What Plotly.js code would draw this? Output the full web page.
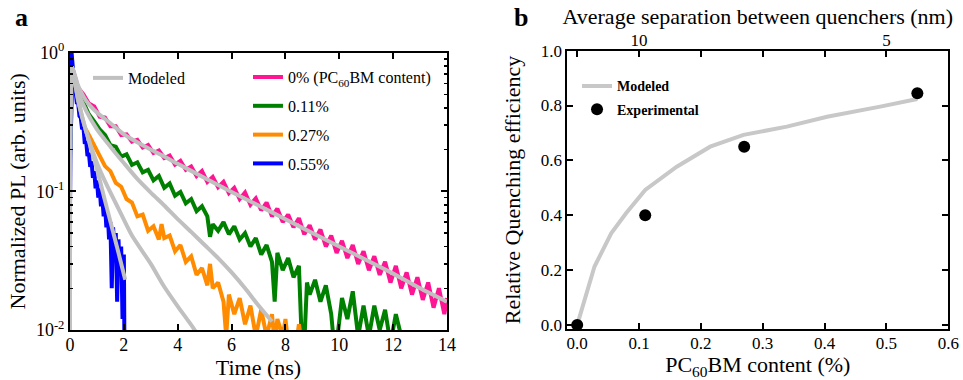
<!DOCTYPE html>
<html>
<head>
<meta charset="utf-8">
<script src="https://cdn.plot.ly/plotly-3.0.1.min.js"></script>
<style>html,body{margin:0;padding:0;background:#fff;}</style>
</head>
<body>
<div id="chart" style="width:963px;height:380px;"></div>
<script>
// ---------- Panel a: PL decays (time in ns, normalized PL) ----------
const pinkTime = [0,0.1,0.3,0.5,0.7,0.9,1.1,1.3,1.5,1.7,
  1.9,2.1,2.3,2.5,2.7,2.9,3.1,3.3,3.5,3.7,
  3.9,4.1,4.3,4.5,4.7,4.9,5.1,5.3,5.5,5.7,
  5.9,6.1,6.3,6.5,6.7,6.9,7.1,7.3,7.5,7.7,
  7.9,8.1,8.3,8.5,8.7,8.9,9.1,9.3,9.5,9.7,
  9.9,10.1,10.3,10.5,10.7,10.9,11.1,11.3,11.5,11.7,
  11.9,12.1,12.3,12.5,12.7,12.9,13.1,13.3,13.5,13.7,
  13.9,14.0];
const pinkPL = [0.5,0.76,0.56,0.50,0.43,0.41,0.345,0.34,0.295,0.295,
  0.255,0.258,0.228,0.235,0.207,0.216,0.189,0.197,0.174,0.181,
  0.156,0.166,0.143,0.151,0.129,0.140,0.117,0.127,0.107,0.117,
  0.097,0.106,0.088,0.098,0.080,0.089,0.073,0.083,0.066,0.075,
  0.060,0.068,0.055,0.064,0.049,0.057,0.045,0.053,0.040,0.048,
  0.036,0.044,0.033,0.041,0.030,0.037,0.027,0.034,0.025,0.031,
  0.022,0.029,0.020,0.026,0.018,0.024,0.0165,0.022,0.0145,0.020,
  0.013,0.017];

const greenTime = [0,0.1,0.3,0.5,0.7,0.9,1.1,1.3,1.5,1.7,
  1.9,2.1,2.3,2.5,2.7,2.9,3.1,3.3,3.5,3.7,
  3.9,4.1,4.3,4.5,4.7,4.9,5.1,5.2,5.3,5.5,
  5.7,5.9,6.1,6.3,6.5,6.7,6.9,7.1,7.3,7.5,
  7.6,7.7,7.9,8.1,8.3,8.5,8.6,8.7,8.8,8.9,
  9.1,9.3,9.5,9.7,9.8,9.9,10.1,10.3,10.5,10.7,
  10.9,11.1,11.3,11.5,11.7,11.9,12.1,12.3,12.4];
const greenPL = [0.17,0.76,0.53,0.44,0.36,0.32,0.28,0.255,0.215,0.21,
  0.178,0.185,0.155,0.162,0.137,0.143,0.120,0.129,0.106,0.114,
  0.093,0.099,0.082,0.088,0.072,0.078,0.066,0.047,0.058,0.052,
  0.060,0.049,0.056,0.045,0.050,0.040,0.046,0.035,0.041,0.031,
  0.016,0.036,0.027,0.033,0.024,0.029,0.009,0.008,0.022,0.018,
  0.023,0.016,0.021,0.013,0.008,0.008,0.017,0.012,0.019,0.009,
  0.015,0.009,0.015,0.010,0.014,0.008,0.013,0.009,0.008];

const orangeTime = [0,0.1,0.3,0.5,0.7,0.9,1.1,1.3,1.5,1.7,
  1.9,2.1,2.3,2.5,2.7,2.9,3.1,3.3,3.4,3.5,
  3.7,3.9,4.1,4.3,4.5,4.7,4.9,5.1,5.2,5.3,
  5.5,5.7,5.8,5.9,6.1,6.3,6.5,6.7,6.9,7.1,
  7.3,7.5,7.6,7.7,7.9,8.0,8.1,8.4,8.5,8.6];
const orangePL = [0.5,0.76,0.45,0.30,0.255,0.215,0.185,0.152,0.140,0.115,
  0.108,0.088,0.083,0.066,0.068,0.052,0.056,0.045,0.058,0.046,
  0.048,0.037,0.041,0.031,0.034,0.025,0.028,0.021,0.030,0.020,
  0.022,0.016,0.009,0.018,0.013,0.017,0.011,0.015,0.009,0.014,
  0.009,0.013,0.008,0.012,0.009,0.012,0.008,0.008,0.011,0.008];

const blueTime = [0,0.05,0.1,0.15,0.2,0.25,0.3,0.35,0.4,0.45,
  0.5,0.55,0.6,0.65,0.7,0.75,0.8,0.85,0.9,0.95,
  1.0,1.05,1.1,1.15,1.2,1.25,1.3,1.35,1.4,1.45,
  1.5,1.55,1.6,1.65,1.7,1.75,1.8,1.85,1.9,1.95,
  2.0,2.02];
const bluePL = [0.08,1.05,0.80,0.58,0.55,0.44,0.44,0.35,0.34,0.28,
  0.29,0.22,0.23,0.18,0.19,0.15,0.165,0.125,0.14,0.105,
  0.12,0.09,0.105,0.078,0.09,0.066,0.08,0.055,0.07,0.045,
  0.06,0.020,0.055,0.035,0.05,0.016,0.045,0.025,0.04,0.012,
  0.035,0.008];

// Modeled decays (gray)
const modelPinkTime = [0,0.08,0.3,0.6,1.0,1.5,2,3,4,5,6,7,8,9,10,11,12,13,14];
const modelPinkPL = [0.001,0.78,0.58,0.45,0.37,0.31,0.258,0.200,0.158,0.125,0.099,0.079,0.063,0.050,0.040,0.032,0.0255,0.020,0.016];
const modelGreenTime = [0,0.08,0.3,0.6,1.0,1.5,2.0,2.5,3,3.5,4,4.5,5,5.5,6,6.5,7,7.5];
const modelGreenPL = [0.001,0.78,0.52,0.38,0.28,0.21,0.16,0.123,0.098,0.079,0.063,0.051,0.041,0.033,0.026,0.020,0.015,0.0115];
const modelOrangeTime = [0,0.08,0.3,0.6,1.0,1.3,1.8,2.3,3,3.5,4,4.6,4.8];
const modelOrangePL = [0.001,0.78,0.45,0.27,0.16,0.118,0.075,0.048,0.030,0.0205,0.0148,0.0102,0.0088];
const modelBlueTime = [0,0.08,0.2,0.4,0.6,0.8,1.0,1.2,1.4,1.6,1.8,2.05];
const modelBluePL = [0.001,0.78,0.58,0.38,0.27,0.197,0.145,0.102,0.072,0.051,0.036,0.023];

const seriesNames = ['0% (PC<sub>60</sub>BM content)','0.11%','0.27%','0.55%'];
const seriesColors = ['#ff1493','#008000','#ff8c00','#0000ff'];
const decayTicks = [0.01,0.1,1];
const decayTickText = ['10<sup>-2</sup>','10<sup>-1</sup>','10<sup>0</sup>'];
const decayMinor = [0.02,0.03,0.04,0.05,0.06,0.07,0.08,0.09,0.2,0.3,0.4,0.5,0.6,0.7,0.8,0.9];

// ---------- Panel b: quenching efficiency ----------
const expContent = [0, 0.11, 0.27, 0.55];
const expEfficiency = [0.0, 0.40, 0.65, 0.845];
const modelContent = [0,0.012,0.028,0.055,0.079,0.110,0.161,0.215,0.269,0.339,0.404,0.49,0.55];
const modelEfficiency = [0,0.091,0.213,0.334,0.407,0.492,0.577,0.650,0.693,0.723,0.759,0.796,0.824];
const separationTickPos = [0.1, 0.5];
const separationTickText = ['10', '5'];

const FONT = '"Liberation Serif", "Times New Roman", serif';
const GRAY = '#c0c0c0';
function f(size, extra) { return Object.assign({family: FONT, color: '#000', size: size}, extra || {}); }

const dataTimes = [pinkTime, greenTime, orangeTime, blueTime];
const dataPLs = [pinkPL, greenPL, orangePL, bluePL];
const traces = [];
for (let i = 0; i < 4; i++) {
  traces.push({
    x: dataTimes[i], y: dataPLs[i], type: 'scatter', mode: 'lines',
    name: seriesNames[i], line: {color: seriesColors[i], width: 4},
    xaxis: 'x', yaxis: 'y', legend: 'legend2', legendgroup: 'g' + i
  });
}
const modelTimes = [modelPinkTime, modelGreenTime, modelOrangeTime, modelBlueTime];
const modelPLs = [modelPinkPL, modelGreenPL, modelOrangePL, modelBluePL];
for (let i = 0; i < 4; i++) {
  traces.push({
    x: modelTimes[i], y: modelPLs[i], type: 'scatter', mode: 'lines',
    name: 'Modeled', line: {color: GRAY, width: 4, shape: 'spline', smoothing: 0.6},
    xaxis: 'x', yaxis: 'y', legend: 'legend', showlegend: i === 0
  });
}
traces.push({
  x: modelContent, y: modelEfficiency, type: 'scatter', mode: 'lines',
  name: 'Modeled', line: {color: '#c8c8c8', width: 4},
  xaxis: 'x2', yaxis: 'y2', legend: 'legend3', legendgroup: 'm'
});
traces.push({
  x: expContent, y: expEfficiency, type: 'scatter', mode: 'markers',
  name: 'Experimental', marker: {color: '#000', size: 12},
  xaxis: 'x2', yaxis: 'y2', legend: 'legend3', legendgroup: 'e', cliponaxis: false
});
// same experimental points referenced on the top (separation) axis so that axis is drawn; invisible
traces.push({
  x: expContent, y: expEfficiency, type: 'scatter', mode: 'markers',
  marker: {opacity: 0, size: 1}, showlegend: false, hoverinfo: 'skip',
  xaxis: 'x3', yaxis: 'y2'
});

const axisCommon = {
  showline: true, linewidth: 2, linecolor: '#000', mirror: 'ticks',
  ticks: 'inside', ticklen: 6, tickwidth: 2, tickcolor: '#000',
  showgrid: false, zeroline: false
};

const layout = {
  width: 963, height: 380,
  margin: {l: 0, r: 0, t: 0, b: 0},
  paper_bgcolor: '#fff', plot_bgcolor: '#fff',
  font: f(17),
  showlegend: true,
  xaxis: Object.assign({}, axisCommon, {
    domain: [0.0727, 0.4642], anchor: 'y', range: [0, 14],
    tickvals: [0,2,4,6,8,10,12,14], tickfont: f(18), ticklabelstandoff: -3,
    title: {text: 'Time (ns)', font: f(22), standoff: 2}
  }),
  yaxis: Object.assign({}, axisCommon, {
    domain: [0.1316, 0.8613], anchor: 'x', type: 'log', range: [-2, 0],
    tickvals: decayTicks, ticktext: decayTickText, tickfont: f(18),
    minor: {tickvals: decayMinor, ticks: 'inside', ticklen: 3, tickwidth: 1.5, tickcolor: '#000'},
    title: {text: 'Normalized PL (arb. units)', font: f(22), standoff: 4}
  }),
  xaxis2: Object.assign({}, axisCommon, {
    domain: [0.5891, 0.9847], anchor: 'y2', range: [-0.016, 0.6],
    tickvals: [0,0.1,0.2,0.3,0.4,0.5,0.6], tickformat: '.1f', tickfont: f(17), ticklabelstandoff: -3,
    title: {text: 'PC<sub>60</sub>BM content (%)', font: f(22), standoff: 4}
  }),
  yaxis2: Object.assign({}, axisCommon, {
    domain: [0.1334, 0.8666], anchor: 'x2', range: [-0.016, 1.0],
    tickvals: [0,0.2,0.4,0.6,0.8,1.0], tickformat: '.1f', tickfont: f(17),
    title: {text: 'Relative Quenching efficiency', font: f(22), standoff: 14}
  }),
  xaxis3: {
    overlaying: 'x2', anchor: 'y2', side: 'top', range: [-0.016, 0.6],
    tickvals: separationTickPos, ticktext: separationTickText, ticks: '',
    showline: false, showgrid: false, zeroline: false, tickfont: f(17),
    title: {text: 'Average separation between quenchers (nm)', font: f(22), standoff: 0}
  },
  legend: {x: 0.0914, y: 0.8395, xanchor: 'left', yanchor: 'top', bgcolor: 'rgba(0,0,0,0)',
    borderwidth: 0, font: f(16)},
  legend2: {x: 0.2575, y: 0.8418, xanchor: 'left', yanchor: 'top', bgcolor: 'rgba(0,0,0,0)',
    borderwidth: 0, font: f(16), traceorder: 'grouped', tracegroupgap: 5},
  legend3: {x: 0.5992, y: 0.8147, xanchor: 'left', yanchor: 'top', bgcolor: 'rgba(0,0,0,0)',
    borderwidth: 0, font: f(14, {weight: 'bold'}), traceorder: 'grouped', tracegroupgap: 2},
  annotations: [
    {text: '<b>a</b>', xref: 'paper', yref: 'paper', x: 0.0228, y: 0.955, showarrow: false,
      font: f(26), xanchor: 'center', yanchor: 'middle'},
    {text: '<b>b</b>', xref: 'paper', yref: 'paper', x: 0.5407, y: 0.955, showarrow: false,
      font: f(26), xanchor: 'center', yanchor: 'middle'}
  ]
};

Plotly.newPlot('chart', traces, layout, {displayModeBar: false, staticPlot: true});
</script>
</body>
</html>
